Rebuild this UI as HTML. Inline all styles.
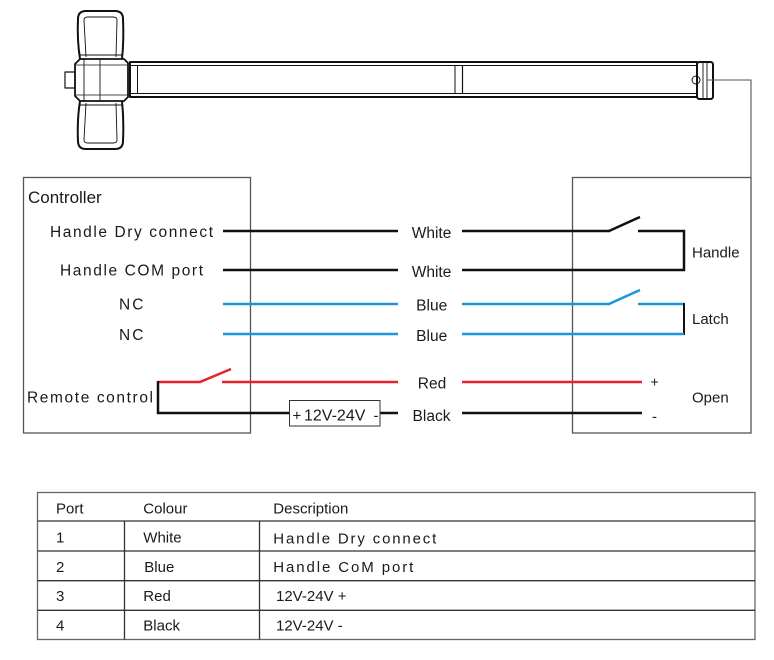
<!DOCTYPE html>
<html>
<head>
<meta charset="utf-8">
<style>
html,body{margin:0;padding:0;background:#fff;}
svg{display:block;}
text{font-family:"Liberation Sans",Arial,sans-serif;fill:#1a1a1a;}
</style>
</head>
<body>
<svg width="774" height="660" viewBox="0 0 774 660" xmlns="http://www.w3.org/2000/svg">
  <!-- ===== Push bar ===== -->
  <g fill="none" stroke="#111" stroke-linejoin="round">
    <!-- upper lobe -->
    <path d="M80,59 Q77,40 78,19 Q78,11 86,11 L115,11 Q123,11 123,19 Q124,40 122,59" stroke-width="2"/>
    <path d="M86,57 L84,20 Q84,17 88,17 L113,17 Q117,17 117,20 L116,57" stroke-width="0.9"/>
    <line x1="80" y1="55" x2="122" y2="55" stroke-width="0.9"/>
    <!-- lower lobe -->
    <path d="M80,101 Q77,120 78,141 Q78,149 86,149 L115,149 Q123,149 123,141 Q124,120 122,101" stroke-width="2"/>
    <path d="M86,103 L84,140 Q84,143 88,143 L113,143 Q117,143 117,140 L116,103" stroke-width="0.9"/>
    <line x1="80" y1="105" x2="122" y2="105" stroke-width="0.9"/>
    <!-- central body -->
    <path d="M80,59 L124,59 L128,63 L128,97 L124,101 L80,101 L75,96 L75,64 Z" stroke-width="1.8"/>
    <line x1="84" y1="59" x2="84" y2="101" stroke-width="0.9"/>
    <line x1="100" y1="59" x2="100" y2="101" stroke-width="0.9"/>
    <line x1="76" y1="65" x2="127" y2="65" stroke-width="0.8"/>
    <line x1="76" y1="95" x2="127" y2="95" stroke-width="0.8"/>
    <!-- nub -->
    <rect x="65" y="72" width="10" height="16" stroke-width="1.2"/>
    <!-- bar -->
    <rect x="130" y="62" width="567" height="35" stroke-width="2"/>
    <line x1="130" y1="65.5" x2="697" y2="65.5" stroke-width="1"/>
    <line x1="130" y1="93.5" x2="697" y2="93.5" stroke-width="1"/>
    <line x1="137.5" y1="65" x2="137.5" y2="94" stroke-width="1"/>
    <line x1="455" y1="65" x2="455" y2="94" stroke-width="1"/>
    <line x1="462.5" y1="65" x2="462.5" y2="94" stroke-width="1.2"/>
    <!-- end cap -->
    <rect x="697" y="62" width="16" height="37" rx="2.5" stroke-width="2"/>
    <line x1="703" y1="63" x2="703" y2="98" stroke-width="0.9"/>
    <line x1="707" y1="63" x2="707" y2="98" stroke-width="0.9"/>
    <circle cx="696" cy="80" r="4" stroke-width="1"/>
  </g>
  <!-- connecting wire -->
  <polyline points="707,80 751,80 751,177" fill="none" stroke="#555" stroke-width="1.1"/>

  <!-- ===== Boxes ===== -->
  <rect x="23.5" y="177.5" width="227" height="255.5" fill="none" stroke="#555" stroke-width="1.3"/>
  <rect x="572.5" y="177.5" width="178.5" height="255.5" fill="none" stroke="#555" stroke-width="1.3"/>

  <!-- ===== Wires ===== -->
  <g fill="none" stroke-width="2.5" stroke-linejoin="miter">
    <!-- black row 1 -->
    <line x1="223" y1="231" x2="398" y2="231" stroke="#111"/>
    <line x1="462" y1="231" x2="610" y2="231" stroke="#111"/>
    <line x1="609" y1="231" x2="640" y2="217" stroke="#111"/>
    <polyline points="638,231 684,231 684,270 462,270" stroke="#111"/>
    <!-- black row 2 -->
    <line x1="223" y1="270" x2="398" y2="270" stroke="#111"/>
    <!-- blue row 1 -->
    <line x1="223" y1="304" x2="398" y2="304" stroke="#1b96dc"/>
    <line x1="462" y1="304" x2="610" y2="304" stroke="#1b96dc"/>
    <line x1="609" y1="304" x2="640" y2="290" stroke="#1b96dc"/>
    <line x1="638" y1="304" x2="684" y2="304" stroke="#1b96dc"/>
    <line x1="684" y1="303" x2="684" y2="335" stroke="#111" stroke-width="2"/>
    <!-- blue row 2 -->
    <line x1="223" y1="334" x2="398" y2="334" stroke="#1b96dc"/>
    <line x1="462" y1="334" x2="684" y2="334" stroke="#1b96dc"/>
    <!-- red -->
    <line x1="158" y1="382" x2="201" y2="382" stroke="#e8202a"/>
    <line x1="200" y1="382" x2="231" y2="369" stroke="#e8202a"/>
    <line x1="222" y1="382" x2="398" y2="382" stroke="#e8202a"/>
    <line x1="462" y1="382" x2="642" y2="382" stroke="#e8202a"/>
    <!-- black supply -->
    <polyline points="158,381 158,413 289,413" stroke="#111"/>
    <line x1="380" y1="413" x2="398" y2="413" stroke="#111"/>
    <line x1="462" y1="413" x2="642" y2="413" stroke="#111"/>
  </g>
  <rect x="289.5" y="400.5" width="90.5" height="25.5" fill="#fff" stroke="#333" stroke-width="1"/>

  <!-- ===== Controller labels ===== -->
  <text x="28" y="203" font-size="17">Controller</text>
  <text x="50" y="237" font-size="15.5" textLength="163" lengthAdjust="spacing">Handle Dry connect</text>
  <text x="60" y="275.5" font-size="15.5" textLength="143" lengthAdjust="spacing">Handle COM port</text>
  <text x="119" y="309.5" font-size="15.5" textLength="24.5" lengthAdjust="spacing">NC</text>
  <text x="119" y="340" font-size="15.5" textLength="24.5" lengthAdjust="spacing">NC</text>
  <text x="27" y="402.5" font-size="15.5" textLength="126" lengthAdjust="spacing">Remote control</text>
  <text x="292.5" y="420.5" font-size="15">+</text>
  <text x="304" y="420.5" font-size="16">12V-24V</text>
  <text x="373.5" y="420.5" font-size="15">-</text>

  <!-- ===== Wire labels ===== -->
  <g font-size="15.5" text-anchor="middle">
    <text x="431.5" y="238">White</text>
    <text x="431.5" y="277">White</text>
    <text x="431.7" y="310.5">Blue</text>
    <text x="431.7" y="341">Blue</text>
    <text x="432" y="388.5">Red</text>
    <text x="431.5" y="421">Black</text>
  </g>

  <!-- ===== Right box labels ===== -->
  <text x="692" y="257.5" font-size="15">Handle</text>
  <text x="692" y="324" font-size="15">Latch</text>
  <text x="692" y="402.5" font-size="15">Open</text>
  <text x="650.5" y="386.5" font-size="14">+</text>
  <text x="652" y="421.5" font-size="15">-</text>

  <!-- ===== Table ===== -->
  <g stroke="#333" stroke-width="1.3" fill="none">
    <rect x="37.5" y="492.5" width="717.5" height="147" stroke="#666"/>
    <line x1="37.5" y1="521" x2="755" y2="521"/>
    <line x1="37.5" y1="551" x2="755" y2="551"/>
    <line x1="37.5" y1="580.7" x2="755" y2="580.7"/>
    <line x1="37.5" y1="610.3" x2="755" y2="610.3"/>
    <line x1="124.5" y1="521" x2="124.5" y2="639.5"/>
    <line x1="259.5" y1="521" x2="259.5" y2="639.5"/>
  </g>
  <g font-size="15">
    <text x="56" y="513.5">Port</text>
    <text x="143.3" y="513.5">Colour</text>
    <text x="273.3" y="513.5">Description</text>

    <text x="56" y="542.5">1</text>
    <text x="143.3" y="542.5">White</text>
    <text x="273.3" y="543.3" textLength="163" lengthAdjust="spacing">Handle Dry connect</text>

    <text x="56" y="572">2</text>
    <text x="144.3" y="572">Blue</text>
    <text x="273.3" y="572" textLength="140" lengthAdjust="spacing">Handle CoM port</text>

    <text x="56" y="601">3</text>
    <text x="143.3" y="601">Red</text>
    <text x="276" y="601">12V-24V +</text>

    <text x="56" y="630.7">4</text>
    <text x="143.3" y="630.7">Black</text>
    <text x="276" y="630.7">12V-24V -</text>
  </g>
</svg>
</body>
</html>
